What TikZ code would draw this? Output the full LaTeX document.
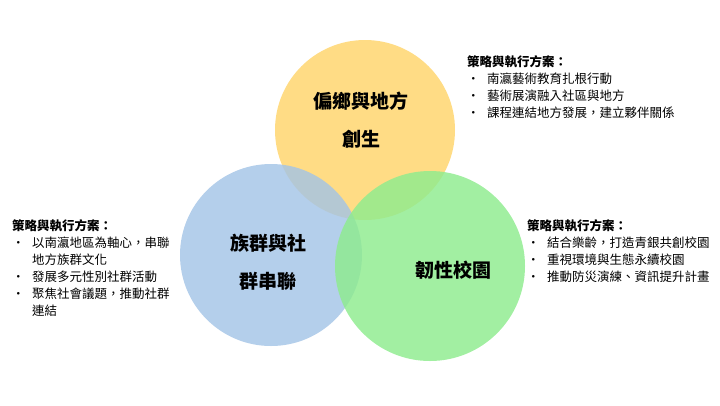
\documentclass[tikz,border=0pt]{standalone}
\usepackage{fontspec}
\setmainfont{Noto Sans CJK TC}
\usetikzlibrary{positioning}
\definecolor{ringY}{HTML}{FFD46A}
\definecolor{ringB}{HTML}{A4C4E6}
\definecolor{ringG}{HTML}{8EEC8E}
\newcommand{\pt}{\makebox[20pt][l]{•}}
\tikzset{
  ring/.style = {circle, fill opacity=0.82, draw=none},
  title/.style = {align=center, font=\fontsize{19}{38}\selectfont\bfseries, text=black},
  plan/.style = {align=left, anchor=north west, font=\fontsize{12.5}{17}\selectfont,
    inner sep=0pt, text width=#1},
}
\begin{document}
\begin{tikzpicture}[x=1pt,y=-1pt]
\useasboundingbox (0,0) rectangle (720,405);
% three circles
\fill [ring, fill=ringY] (365,130) circle (90);
\fill [ring, fill=ringB] (271,255) circle (91);
\fill [ring, fill=ringG] (430,266) circle (95);
\node [title] (Tt) at (361,120) {偏鄉與地方\\創生};
\node [title] (Tl) at (268,262) {族群與社\\群串聯};
\node [title] (Tr) at (453,270) {韌性校園};
% strategy texts
\node [plan=260pt] (Pt) at (467,55) {\textbf{策略與執行方案：}\\
  \pt 南瀛藝術教育扎根行動\\
  \pt 藝術展演融入社區與地方\\
  \pt 課程連結地方發展，建立夥伴關係};
\node [plan=185pt] (Pl) at (12,219) {\textbf{策略與執行方案：}\\
  \pt 以南瀛地區為軸心，串聯\\
  \hspace*{20pt}地方族群文化\\
  \pt 發展多元性別社群活動\\
  \pt 聚焦社會議題，推動社群\\
  \hspace*{20pt}連結};
\node [plan=200pt] (Pr) at (527,219) {\textbf{策略與執行方案：}\\
  \pt 結合樂齡，打造青銀共創校園\\
  \pt 重視環境與生態永續校園\\
  \pt 推動防災演練、資訊提升計畫};
\end{tikzpicture}
\end{document}
